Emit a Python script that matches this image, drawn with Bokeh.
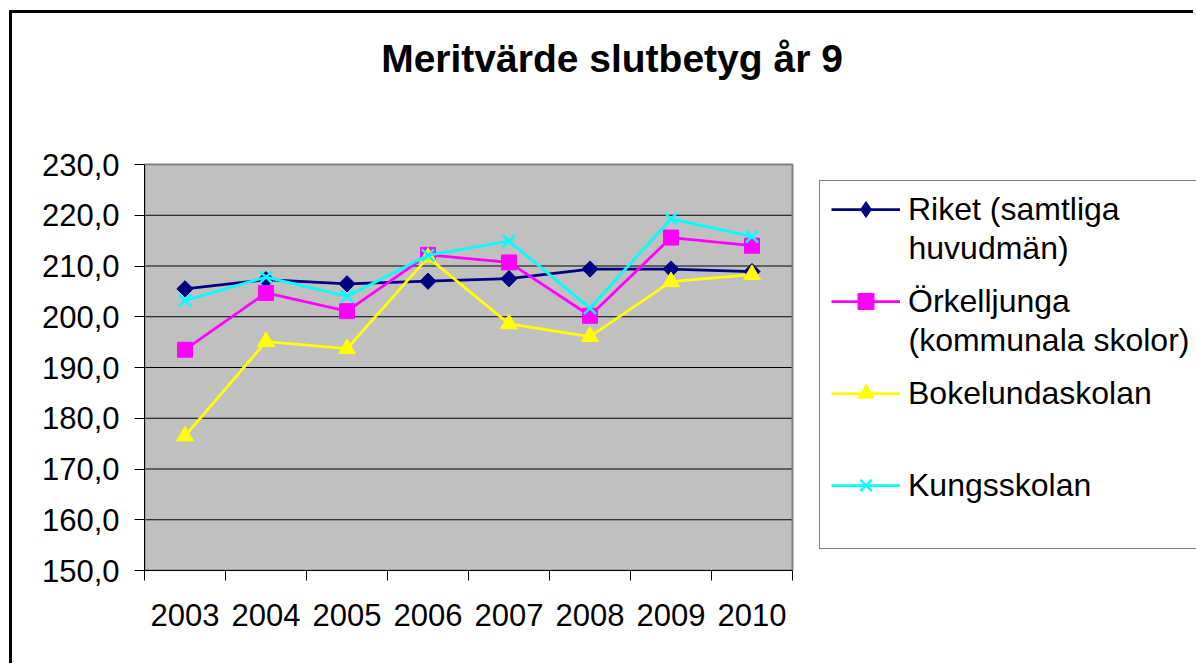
import numpy as np
from bokeh.plotting import figure
from bokeh.models import FixedTicker, Legend, LegendItem, Label, Range1d, ColumnDataSource
from bokeh.embed import file_html
from bokeh.resources import INLINE

# ---- data ----
years = ["2003", "2004", "2005", "2006", "2007", "2008", "2009", "2010"]
riket = [205.5, 207.3, 206.5, 207.0, 207.5, 209.4, 209.4, 208.9]
orkelljunga = [193.5, 204.7, 201.1, 212.2, 210.7, 200.2, 215.6, 214.0]
bokelunda = [176.5, 195.1, 193.7, 211.7, 198.6, 196.1, 206.9, 208.3]
kungsskolan = [203.2, 207.8, 204.0, 212.1, 214.9, 201.7, 219.3, 215.8]
series_labels = ["Riket (samtliga\nhuvudmän)", "Örkelljunga\n(kommunala skolor)",
                 "Bokelundaskolan", "Kungsskolan"]
y_ticks = [150, 160, 170, 180, 190, 200, 210, 220, 230]
title_text = "Meritvärde slutbetyg år 9"

FONT = "Liberation Sans"

n = len(years)
x = list(np.arange(n) + 0.5)
y_min, y_max = y_ticks[0], y_ticks[-1]

W, H = 1184, 653
LEFT, BOTTOM = 132, H - 557          # borders around the frame
PLOT_W, PLOT_H = 648, 406            # size of the grey plot area in px
frame_w, frame_h = W - LEFT, H - BOTTOM
x_end = n * frame_w / PLOT_W
y_end = y_min + (y_max - y_min) * frame_h / PLOT_H

p = figure(width=W, height=H, output_backend="svg", toolbar_location=None,
           x_range=Range1d(0, x_end), y_range=Range1d(y_min, y_end),
           min_border_left=LEFT, min_border_right=0, min_border_top=0,
           min_border_bottom=BOTTOM,
           background_fill_color="white", border_fill_color="white",
           outline_line_color=None,
           styles={"border-left": "3px solid black", "border-top": "3px solid black",
                   "border-right": "none", "border-bottom": "none",
                   "margin-left": "9px", "margin-top": "10px"})

# grey plot area
p.quad(left=0, right=n, bottom=y_min, top=y_max, fill_color="#C0C0C0", line_color=None)
p.segment(x0=[0] * len(y_ticks), x1=[n] * len(y_ticks), y0=y_ticks, y1=y_ticks,
          line_color="black", line_width=1)
p.quad(left=0, right=n, bottom=y_min, top=y_max, fill_color=None,
       line_color="#808080", line_width=2)

# axes
p.xaxis.bounds = (0, n)
p.xaxis.ticker = FixedTicker(ticks=x, minor_ticks=list(range(n + 1)))
p.xaxis.major_label_overrides = {xi: y for xi, y in zip(x, years)}
p.xaxis.major_tick_out = 0
p.xaxis.major_tick_in = 0
p.xaxis.minor_tick_out = 10
p.xaxis.minor_tick_in = 0
p.xaxis.minor_tick_line_color = "black"
p.xaxis.axis_line_color = "black"
p.xaxis.major_label_standoff = 23
p.xaxis.major_label_text_font = FONT
p.xaxis.major_label_text_font_size = "31px"
p.xaxis.major_label_text_color = "black"

p.yaxis.bounds = (y_min, y_max)
p.yaxis.ticker = FixedTicker(ticks=y_ticks)
p.yaxis.major_label_overrides = {v: f"{v:.1f}".replace(".", ",") for v in y_ticks}
p.yaxis.major_tick_out = 10
p.yaxis.major_tick_in = 0
p.yaxis.minor_tick_line_color = None
p.yaxis.axis_line_color = "black"
p.yaxis.major_label_standoff = 15
p.yaxis.major_label_text_font = FONT
p.yaxis.major_label_text_font_size = "31px"
p.yaxis.major_label_text_color = "black"

p.xgrid.visible = False
p.ygrid.visible = False

# series
specs = [
    (riket, "#000080", dict(marker="square", angle=np.pi / 4, size=11.5), "diamond"),
    (orkelljunga, "#FF00FF", dict(marker="square", size=15), None),
    (bokelunda, "#FFFF00", dict(marker="triangle", size=17), None),
    (kungsskolan, "#00FFFF", dict(marker="x", size=17, line_width=2.5), None),
]
items = []
for vals, color, mk, legend_marker in specs:
    src = ColumnDataSource(dict(x=x, y=vals))
    lr = p.line("x", "y", source=src, line_color=color, line_width=2.75)
    key = None
    if legend_marker:
        # legend keys are never rotated: a diamond key, hidden under the rotated squares
        key = p.scatter("x", "y", source=src, marker=legend_marker, size=15,
                        fill_color=color, line_color=color)
    sr = p.scatter("x", "y", source=src, fill_color=color, line_color=color, **mk)
    items.append([lr, key if key is not None else sr])

# legend frame (transparent, only the border)
ghost = p.line(x=[], y=[], line_alpha=0)
legend_box = Legend(items=[LegendItem(label=" ", renderers=[ghost])],
                    location=(675, 21), padding=0, spacing=0,
                    label_height=367, label_width=500, glyph_height=20,
                    label_text_font_size="32px", label_text_alpha=0,
                    border_line_color="black", border_line_width=1,
                    background_fill_alpha=0.0)
p.add_layout(legend_box, "center")

first_lines = [s.split("\n")[0] for s in series_labels]
legend = Legend(items=[LegendItem(label=lab, renderers=rs) for lab, rs in zip(first_lines, items)],
                location=(687, 65), orientation="vertical",
                label_text_font=FONT, label_text_font_size="32px", label_text_color="black",
                glyph_width=69, glyph_height=40, label_height=40, label_standoff=8,
                padding=0, spacing=52,
                border_line_color=None, background_fill_alpha=0.0)
p.add_layout(legend, "center")

# wrapped second lines of the legend labels
ITEM_PITCH, ITEM_TOP_CENTER, LINE_H = 92, 570 - 209, 38
for i, s in enumerate(series_labels):
    parts = s.split("\n")
    for j, part in enumerate(parts[1:], start=1):
        p.add_layout(Label(x=764, y=ITEM_TOP_CENTER - i * ITEM_PITCH - j * LINE_H,
                           x_units="screen", y_units="screen", text=part,
                           text_font=FONT, text_font_size="32px", text_color="black",
                           text_align="left", text_baseline="middle"))

title = Label(x=467.5, y=512, x_units="screen", y_units="screen", text=title_text,
              text_font=FONT, text_font_size="39px", text_font_style="bold",
              text_align="center", text_baseline="middle", text_color="black")
p.add_layout(title)

open("out.html", "w").write(file_html(p, INLINE))
